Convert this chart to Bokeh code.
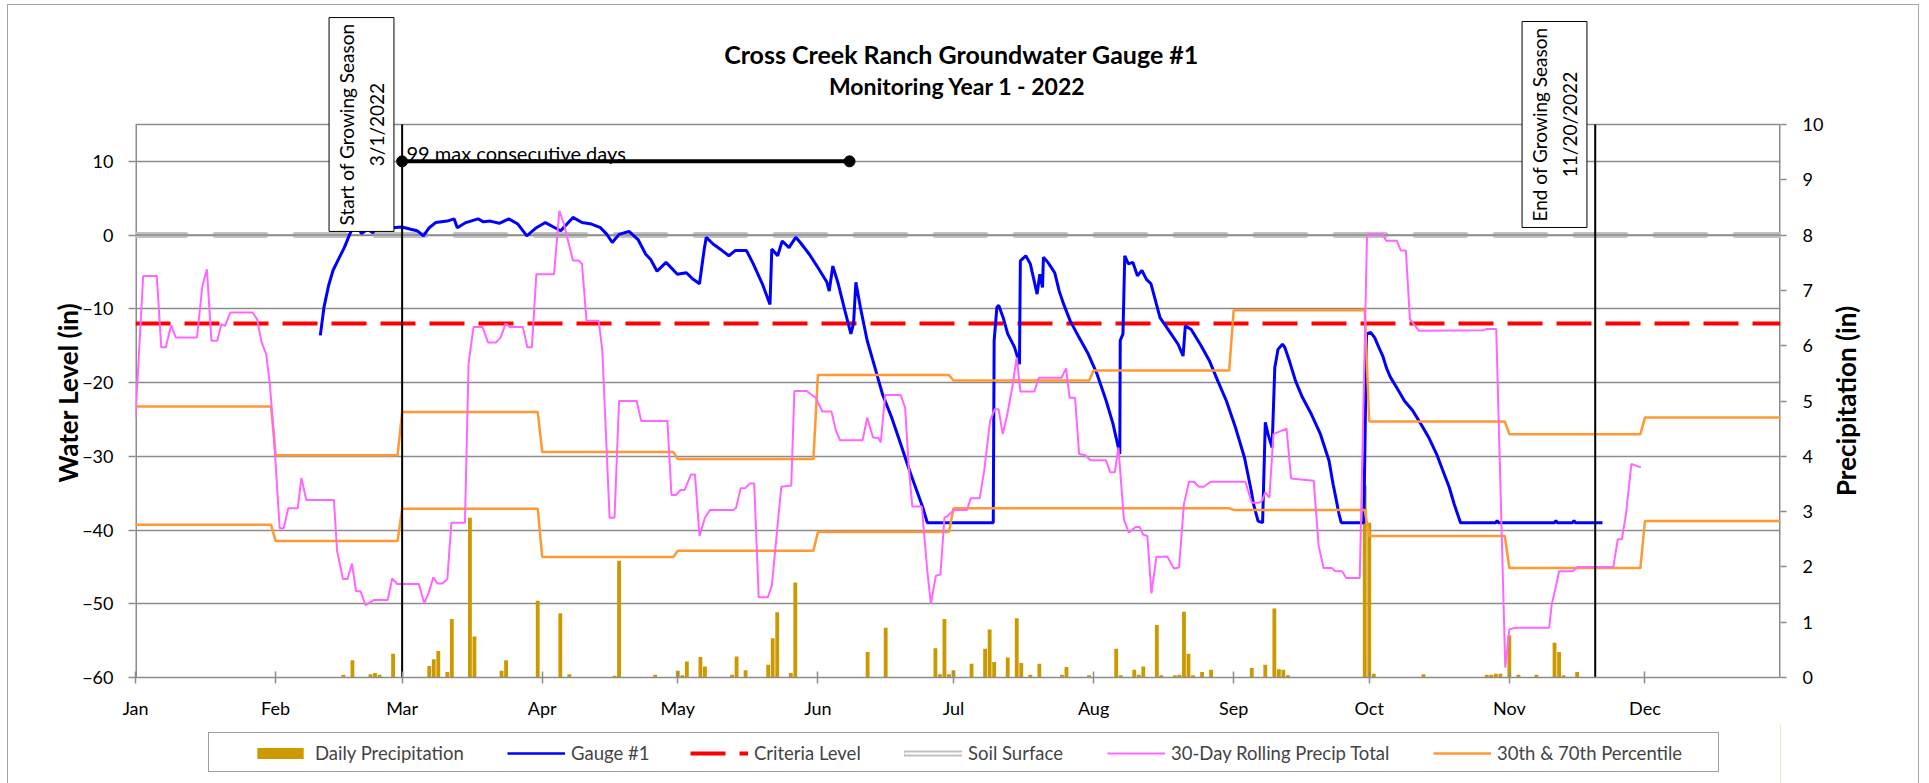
import numpy as np
import pandas as pd
from bokeh.plotting import figure
from bokeh.layouts import column, row
from bokeh.models import (Range1d, LinearAxis, FixedTicker, DatetimeTickFormatter,
                          Label, Legend, LegendItem)
from bokeh.embed import file_html
from bokeh.resources import INLINE

# ---------------- data ----------------
YEAR = "2022"

# daily precipitation (day of year, 0 = Jan 1) and inches
precip_day = [46, 48, 52, 53, 54, 57, 65, 66, 67, 69, 70, 74, 75, 81, 82, 89, 94, 96, 106, 107,
              115, 120, 121, 122, 125, 126, 132, 133, 135, 140, 141, 142, 145, 146, 162, 166,
              177, 178, 179, 180, 181, 185, 188, 189, 190, 193, 195, 196, 198, 200, 205, 206,
              211, 217, 218, 221, 222, 223, 226, 227, 230, 231, 232, 233, 234, 236, 238, 247,
              250, 252, 253, 254, 255, 272, 273, 274, 285, 299, 300, 301, 302, 304, 306, 310,
              314, 315, 316, 319]
precip_in = [0.05, 0.31, 0.06, 0.08, 0.05, 0.43, 0.21, 0.33, 0.48, 0.10, 1.06, 2.89, 0.74, 0.12,
             0.31, 1.39, 1.16, 0.06, 0.03, 2.11, 0.05, 0.12, 0.04, 0.29, 0.37, 0.20, 0.05, 0.38,
             0.13, 0.23, 0.71, 1.18, 0.08, 1.72, 0.46, 0.90, 0.53, 0.06, 1.06, 0.06, 0.13, 0.25,
             0.52, 0.87, 0.28, 0.36, 1.07, 0.26, 0.05, 0.25, 0.05, 0.19, 0.04, 0.52, 0.04, 0.14,
             0.05, 0.20, 0.95, 0.04, 0.04, 0.05, 1.19, 0.43, 0.04, 0.10, 0.14, 0.17, 0.23, 1.25,
             0.15, 0.14, 0.04, 3.47, 2.80, 0.07, 0.06, 0.05, 0.05, 0.07, 0.07, 0.76, 0.05, 0.05,
             0.63, 0.46, 0.04, 0.10]

# Gauge #1 water level (in)
gauge_day = [40.9, 41.7, 42.7, 43.7, 44.9, 46.2, 47.4, 48.2, 48.7, 50.0, 51.4, 52.5, 53.5, 54.2,
             55.5, 56.9, 58.9, 60.9, 62.3, 63.7, 65.0, 66.4, 69.0, 70.5, 71.2, 73.1, 75.8, 77.0,
             78.5, 80.5, 82.6, 84.6, 86.6, 88.7, 90.7, 92.8, 94.1, 96.8, 98.8, 100.9, 102.9,
             104.3, 105.5, 107.0, 109.2, 111.2, 112.9, 114.0, 115.4, 117.4, 119.9, 121.9, 123.4,
             124.8, 125.8, 126.3, 127.8, 129.8, 131.3, 132.7, 135.2, 136.7, 138.7, 140.4, 140.8,
             142.1, 143.1, 144.6, 146.1, 147.1, 149.1, 151.0, 153.0, 153.5, 154.3, 155.5, 157.0,
             158.3, 158.9, 159.4, 160.4, 161.9, 163.4, 165.3, 167.3, 169.3, 171.3, 173.2, 174.2,
             175.2, 189.8, 190.0, 190.6, 191.0, 192.0, 193.0, 194.5, 195.2, 195.6, 195.8, 196.5,
             197.0, 198.0, 198.7, 199.5, 200.1, 200.7, 200.9, 201.9, 203.4, 204.4, 205.4, 206.8,
             208.8, 210.8, 212.8, 214.8, 216.3, 217.8, 217.9, 218.5, 218.9, 219.7, 220.7, 221.7,
             222.7, 223.7, 224.7, 225.7, 226.7, 228.7, 230.7, 231.8, 232.3, 233.6, 235.6, 237.6,
             239.5, 241.4, 243.4, 245.4, 246.9, 247.4, 248.4, 249.4, 250.0, 250.6, 251.5, 252.1,
             252.8, 253.8, 254.3, 255.3, 256.7, 258.2, 260.2, 262.2, 264.1, 265.0, 265.6, 266.3,
             266.8, 271.8, 272.4, 273.3, 274.2, 275.1, 276.0, 276.8, 277.7, 279.1, 280.8, 282.6,
             284.4, 286.2, 287.9, 289.7, 290.7, 291.8, 293.2, 301.0, 301.3, 301.6, 314.0, 314.3,
             314.6, 318.0, 318.3, 318.6, 324.6]
gauge_level = [-13.6, -9.8, -6.9, -4.8, -3.3, -1.7, 0.1, 1.2, 1.7, 0.2, 0.8, 0.3, 1.2, 1.5,
               0.9, 1.0, 1.1, 0.8, 0.6, -0.1, 1.0, 1.7, 1.9, 2.2, 1.0, 1.7, 2.2, 1.8,
               1.9, 1.6, 2.2, 1.5, -0.1, 1.0, 1.7, 1.0, 0.6, 2.4, 1.7, 1.5, 1.0,
               0.1, -1.0, 0.1, 0.5, -0.6, -2.6, -3.3, -4.9, -3.7, -5.3, -5.1, -6.0,
               -6.6, -2.1, -0.3, -1.2, -2.1, -2.8, -2.1, -2.1, -3.9, -6.6, -9.4, -1.9,
               -2.8, -0.8, -1.7, -0.3, -1.0, -2.6, -4.4, -6.4, -7.6, -4.2, -6.6, -10.3,
               -13.4, -11.9, -6.4, -9.8, -14.3, -17.5, -21.6, -24.7, -28.3, -32.0, -35.2, -36.9,
               -39.0, -39.0, -14.3, -9.8, -9.5, -11.2, -13.4, -15.2, -16.6, -17.5, -3.5, -3.1,
               -2.8, -3.9, -5.8, -8.0, -5.3, -7.1, -3.0, -3.7, -5.1, -7.6, -9.4, -11.6,
               -13.9, -16.1, -18.9, -22.5, -25.6, -29.7, -14.3, -13.4, -2.8, -3.9, -3.7, -5.5,
               -4.8, -6.0, -6.6, -8.9, -11.2, -13.0, -14.8, -16.4, -12.3, -12.8, -14.8, -17.0,
               -19.8, -22.5, -26.1, -30.2, -34.7, -36.5, -38.8, -39.0, -25.4, -27.0, -28.8, -18.0,
               -15.5, -14.8, -15.2, -17.0, -19.8, -22.0, -24.3, -27.0, -30.6, -33.8, -35.6, -37.8,
               -39.0, -39.0, -13.4, -13.2, -13.9, -15.2, -16.4, -18.0, -19.3, -20.7, -22.5, -23.8,
               -25.6, -27.5, -29.7, -32.6, -34.2, -36.5, -39.0, -39.0, -38.7, -39.0, -39.0, -38.7,
               -39.0, -39.0, -38.7, -39.0, -39.0]

# 30-day rolling precipitation total (in)
roll_day = [0, 1.7, 4.7, 5.7, 6.7, 7.9, 8.9, 13.6, 14.8, 15.8, 16.8, 18.1, 19.0, 19.8, 21.0, 25.9,
            26.9, 27.9, 28.9, 29.7, 30.6, 31.9, 32.8, 33.8, 35.9, 36.7, 37.8, 43.9, 44.6, 45.9,
            46.9, 47.9, 48.8, 49.8, 50.9, 52.7, 55.8, 56.8, 57.9, 62.7, 63.9, 64.9, 65.9, 66.8,
            67.9, 69.0, 69.9, 72.9, 73.7, 74.8, 76.8, 78.0, 79.8, 80.8, 81.9, 82.8, 85.7, 86.7,
            87.7, 88.7, 92.6, 93.8, 94.8, 96.8, 98.1, 98.8, 99.8, 102.5, 103.3, 104.9, 106.0,
            107.0, 110.9, 111.9, 117.7, 118.6, 119.6, 120.6, 121.5, 122.9, 123.8, 124.8, 126.0,
            127.1, 132.3, 132.9, 133.9, 134.9, 135.9, 136.9, 137.9, 139.9, 140.8, 142.9, 145.1,
            145.8, 148.5, 150.5, 152.0, 154.0, 155.0, 155.9, 160.9, 161.9, 163.2, 164.4, 164.9,
            165.9, 169.3, 170.3, 171.1, 171.9, 174.0, 175.2, 176.0, 177.1, 178.1, 179.0, 179.7,
            180.4, 181.2, 184.0, 184.8, 186.8, 187.8, 189.1, 190.1, 191.0, 191.9, 192.9, 194.0,
            195.0, 195.8, 198.9, 199.9, 204.9, 205.9, 206.7, 207.9, 208.8, 210.2, 211.3, 214.7,
            215.7, 216.7, 217.5, 218.7, 219.8, 221.3, 222.2, 223.0, 223.9, 224.8, 225.9, 228.3,
            229.8, 230.9, 232.0, 233.1, 234.2, 235.3, 236.4, 237.9, 245.6, 246.4, 247.0, 248.6,
            249.3, 250.0, 250.9, 251.8, 254.7, 255.7, 260.7, 261.8, 262.9, 264.7, 265.5, 267.0,
            267.9, 270.9, 272.5, 272.9, 276.0, 276.7, 279.1, 280.0, 281.1, 282.0, 284.0, 298.2,
            298.9, 301.1, 303.1, 304.0, 305.4, 312.8, 313.4, 314.3, 315.0, 318.0, 319.1, 327.0,
            328.0, 328.9, 329.8, 331.0, 333.1]
roll_total = [4.70, 7.26, 7.26, 5.97, 5.97, 6.37, 6.15, 6.15, 7.08, 7.38, 6.09, 6.09, 6.39, 6.36,
              6.60, 6.60, 6.48, 6.06, 5.85, 5.33, 4.40, 2.70, 2.70, 3.06, 3.06, 3.61, 3.21, 3.21,
              2.29, 1.78, 1.78, 2.06, 1.56, 1.56, 1.31, 1.40, 1.40, 1.79, 1.69, 1.69, 1.34, 1.54,
              1.81, 1.70, 1.70, 1.78, 2.80, 2.80, 5.67, 6.34, 6.34, 6.06, 6.06, 6.15, 6.40, 6.34,
              6.34, 5.97, 5.97, 7.29, 7.29, 8.44, 8.20, 7.54, 7.54, 7.48, 6.45, 6.45, 5.91, 2.89,
              2.89, 5.00, 5.00, 4.64, 4.64, 3.30, 3.30, 3.39, 3.39, 3.67, 3.67, 2.56, 2.89, 3.03,
              3.03, 3.07, 3.42, 3.42, 3.51, 3.51, 1.45, 1.45, 1.66, 3.45, 3.47, 5.18, 5.18, 5.06,
              4.81, 4.81, 4.46, 4.29, 4.29, 4.70, 4.34, 4.33, 4.25, 5.11, 5.11, 4.88, 3.80, 3.09,
              3.09, 1.93, 1.33, 1.84, 1.86, 2.89, 2.92, 2.98, 3.03, 3.03, 3.24, 3.24, 3.74, 4.64,
              4.85, 4.85, 4.40, 4.76, 5.24, 5.79, 5.17, 5.17, 5.42, 5.42, 5.59, 5.06, 5.06, 4.04,
              4.02, 3.93, 3.93, 3.71, 3.71, 4.16, 2.86, 2.62, 2.72, 2.72, 2.58, 2.56, 1.52, 2.18,
              2.19, 1.97, 1.99, 3.14, 3.54, 3.54, 3.45, 3.45, 3.54, 3.54, 3.32, 3.16, 3.16, 3.20,
              3.35, 3.25, 4.40, 4.50, 3.60, 3.56, 2.38, 1.98, 1.98, 1.92, 1.92, 1.80, 1.80, 7.96,
              8.02, 8.02, 7.90, 7.90, 7.72, 7.72, 6.48, 6.27, 6.28, 6.30, 6.30, 0.18, 0.87, 0.90,
              0.90, 1.33, 1.64, 1.92, 1.92, 2.00, 2.00, 2.50, 2.50, 2.95, 3.86, 3.80]

# monthly 30th / 70th percentile of 30-day precip (in)
pct70 = [4.90, 4.02, 4.80, 4.08, 3.95, 5.47, 5.37, 5.55, 6.64, 4.63, 4.40, 4.70]
pct30 = [2.76, 2.47, 3.05, 2.18, 2.29, 2.63, 3.06, 3.06, 3.03, 2.56, 1.98, 2.83]

criteria_level = [-12, -12]
soil_level = [0, 0]
line_dates = ["2022-01-01", "2022-12-31"]

season_dates = ["2022-03-01", "2022-11-20"]
streak_days = 99
streak_level = 10

left_ticks = [-60, -50, -40, -30, -20, -10, 0, 10]
right_ticks = [0, 1, 2, 3, 4, 5, 6, 7, 8, 9, 10]
LEFT_MIN, LEFT_MAX = -60, 15
RIGHT_MIN, RIGHT_MAX = 0, 10

# ---------------- helpers ----------------
T0 = pd.Timestamp(YEAR + "-01-01")
T_END = pd.Timestamp(YEAR + "-12-31")


def to_dt(days):
    return (T0 + pd.to_timedelta(np.asarray(days, dtype=float), unit="D")).to_numpy()


def ms(ts):
    return pd.Timestamp(ts).value / 1e6


month_starts = pd.date_range(T0, periods=12, freq="MS")
month_start_day = [(d - T0).days for d in month_starts]
pct_day, up_v, lo_v = [], [], []
for i, m in enumerate(month_start_day):
    end = month_start_day[i + 1] - 1 if i < 11 else 364
    pct_day += [m, end]
    up_v += [pct70[i], pct70[i]]
    lo_v += [pct30[i], pct30[i]]

GRID = "#8c8c8c"
FONT = "Lato"
TICK_FS = "18px"
AXLAB_FS = "26px"
BAR_C, GAUGE_C, CRIT_C = "#CC9900", "#0000FF", "#FF0000"
SOIL_C, ROLL_C, PCT_C = "#C0C0C0", "#FF66FF", "#FF9933"

# layout (page pixels)
W = 1929
W_RT = 100                            # strip at the right holding the precipitation axis title
W_MAIN = W - W_RT
H_MAIN, H_LEG = 724, 59
FRAME_L, FRAME_R = 135, 1780
DATA_TOP, FRAME_B = 124, 677          # the 15 / 10 line, and the frame bottom
# the frame reaches the canvas top so that texts above the data area are not clipped
scale_l = (LEFT_MAX - LEFT_MIN) / (FRAME_B - DATA_TOP)
scale_r = (RIGHT_MAX - RIGHT_MIN) / (FRAME_B - DATA_TOP)
y_top_l = LEFT_MAX + DATA_TOP * scale_l
y_top_r = RIGHT_MAX + DATA_TOP * scale_r
# the left axis title is centred on the whole frame; trailing no-break spaces shift the
# visible words down to the middle of the data area
AX_PAD = "\u00a0" * 17

p = figure(width=W_MAIN, height=H_MAIN, x_axis_type="datetime", title=None,
           x_range=Range1d(start=T0, end=T_END),
           y_range=Range1d(LEFT_MIN, y_top_l),
           output_backend="svg", toolbar_location=None,
           min_border_left=FRAME_L, min_border_right=W_MAIN - FRAME_R,
           min_border_top=0, min_border_bottom=H_MAIN - FRAME_B)
p.extra_y_ranges = {"precip": Range1d(RIGHT_MIN, y_top_r)}
p.outline_line_color = None
p.background_fill_color = None
p.border_fill_color = None
p.xgrid.visible = False
p.ygrid.ticker = FixedTicker(ticks=left_ticks)
p.ygrid.grid_line_color = GRID
p.ygrid.grid_line_width = 1.5

xa = p.xaxis[0]
xa.ticker = FixedTicker(ticks=[ms(d) for d in month_starts])
xa.formatter = DatetimeTickFormatter(days="%b", months="%b", years="%b", hours="%b",
                                     minutes="%b", seconds="%b", milliseconds="%b")
xa.major_tick_in = 6
xa.major_tick_out = 6
xa.minor_tick_line_color = None
xa.axis_line_color = GRID
xa.axis_line_width = 1.5
xa.major_tick_line_color = GRID
xa.major_tick_line_width = 1.5
xa.major_label_text_font = FONT
xa.major_label_text_font_size = TICK_FS
xa.major_label_text_color = "black"
xa.major_label_standoff = 13

ya = p.yaxis[0]
ya.ticker = FixedTicker(ticks=left_ticks)
ya.major_tick_in = 0
ya.major_tick_out = 7
ya.minor_tick_line_color = None
ya.axis_line_color = None
ya.major_tick_line_color = GRID
ya.major_tick_line_width = 1.5
ya.major_label_text_font = FONT
ya.major_label_text_font_size = TICK_FS
ya.major_label_text_color = "black"
ya.major_label_standoff = 15
ya.axis_label = "Water Level (in)" + AX_PAD
ya.axis_label_text_font = FONT
ya.axis_label_text_font_style = "bold"
ya.axis_label_text_font_size = AXLAB_FS
ya.axis_label_text_color = "black"
ya.axis_label_standoff = -5

ra = LinearAxis(y_range_name="precip", ticker=FixedTicker(ticks=right_ticks))
ra.major_tick_in = 0
ra.major_tick_out = 6
ra.minor_tick_line_color = None
ra.axis_line_color = None
ra.major_tick_line_color = GRID
ra.major_tick_line_width = 1.5
ra.major_label_text_font = FONT
ra.major_label_text_font_size = TICK_FS
ra.major_label_text_color = "black"
ra.major_label_standoff = 16
p.add_layout(ra, "right")

# frame lines of the data area (left / right axis lines and top border)
xs = np.array([T0, T0, T_END], dtype="datetime64[ns]")
xe = np.array([T0, T_END, T_END], dtype="datetime64[ns]")
p.segment(x0=xs, y0=[LEFT_MIN, LEFT_MAX, LEFT_MIN], x1=xe, y1=[LEFT_MAX, LEFT_MAX, LEFT_MAX],
          line_color=GRID, line_width=[3, 1.5, 3])

# ---------------- glyphs ----------------
p.vbar(x=to_dt(precip_day), top=precip_in, width=0.85 * 86400000, bottom=0,
       y_range_name="precip", fill_color=BAR_C, line_color=None)

soil_x = pd.to_datetime(line_dates).to_numpy()
p.line(soil_x, soil_level, line_color=SOIL_C, line_width=6, line_dash="50 30", line_cap="round")
p.line(soil_x, soil_level, line_color=GRID, line_width=1.5)

p.line(soil_x, criteria_level, line_color=CRIT_C, line_width=4, line_dash="35 14")

p.line(to_dt(gauge_day), gauge_level, line_color=GAUGE_C, line_width=3)

p.line(to_dt(pct_day), up_v, y_range_name="precip", line_color=PCT_C, line_width=2.5)
p.line(to_dt(pct_day), lo_v, y_range_name="precip", line_color=PCT_C, line_width=2.5)

p.line(to_dt(roll_day), roll_total, y_range_name="precip", line_color=ROLL_C, line_width=2)

# growing season limits
sd = pd.to_datetime(season_dates).to_numpy()
p.segment(x0=sd, y0=[LEFT_MIN] * 2, x1=sd, y1=[LEFT_MAX] * 2, line_color="black", line_width=2)

# max consecutive days marker
s0 = pd.Timestamp(season_dates[0])
streak_x = np.array([s0, s0 + pd.Timedelta(days=streak_days)], dtype="datetime64[ns]")
p.line(streak_x, [streak_level, streak_level], line_color="black", line_width=4)
p.scatter(streak_x, [streak_level, streak_level], size=11, marker="circle", color="black")


# ---------------- text ----------------
def scr_label(x, y, text, **kw):
    kw.setdefault("text_font", FONT)
    kw.setdefault("text_font_size", "19px")
    kw.setdefault("text_color", "black")
    lab = Label(x=x - FRAME_L, y=FRAME_B - y, x_units="screen", y_units="screen", text=text, **kw)
    p.add_layout(lab)
    return lab


scr_label(961, 53, "Cross Creek Ranch Groundwater Gauge #1", text_align="center",
          text_baseline="middle", text_font_style="bold", text_font_size="25px")
scr_label(957, 85, "Monitoring Year 1 - 2022", text_align="center", text_baseline="middle",
          text_font_style="bold", text_font_size="23px")
scr_label(406, 152, "99 max consecutive days", text_align="left", text_baseline="alphabetic",
          text_font_size="20px")
scr_label(361, 124, "Start of Growing Season\n3/1/2022", text_align="center",
          text_baseline="middle", angle=90, angle_units="deg", text_line_height=1.3,
          border_line_color="black", border_line_width=1, background_fill_color="white", padding=6)
scr_label(1554, 124, "End of Growing Season\n11/20/2022", text_align="center",
          text_baseline="middle", angle=90, angle_units="deg", text_line_height=1.3,
          border_line_color="black", border_line_width=1, background_fill_color="white", padding=6)

# ---------------- right strip: precipitation axis title ----------------
r = figure(width=W_RT, height=H_MAIN, x_range=Range1d(0, 1), y_range=Range1d(0, 1),
           x_axis_location=None, y_axis_location=None, title=None,
           output_backend="svg", toolbar_location=None,
           min_border_left=0, min_border_right=0, min_border_top=0,
           min_border_bottom=H_MAIN - FRAME_B)
r.grid.visible = False
r.outline_line_color = None
r.background_fill_color = None
r.border_fill_color = None
r.add_layout(Label(x=1845 - W_MAIN, y=FRAME_B - (DATA_TOP + FRAME_B) / 2,
                   x_units="screen", y_units="screen", text="Precipitation (in)",
                   angle=90, angle_units="deg", text_align="center", text_baseline="middle",
                   text_font=FONT, text_font_style="bold", text_font_size=AXLAB_FS,
                   text_color="black"))

# ---------------- legend strip below the chart ----------------
q = figure(width=W, height=H_LEG, x_range=Range1d(0, 1), y_range=Range1d(0, 1),
           x_axis_location=None, y_axis_location=None, title=None,
           output_backend="svg", toolbar_location=None,
           min_border_left=FRAME_L, min_border_right=W - FRAME_R,
           min_border_top=0, min_border_bottom=0)
q.grid.visible = False
q.outline_line_color = None
q.background_fill_color = None
q.border_fill_color = None

# legend proxies: their single point lies outside the strip's ranges, so only the legend shows them
PX, PY = [5.0], [5.0]
lg_bar = q.vbar(x=PX, top=PY, width=1, fill_color=BAR_C, line_color=None)
lg_gauge = q.line(x=PX, y=PY, line_color=GAUGE_C, line_width=2.5)
lg_crit = q.line(x=PX, y=PY, line_color=CRIT_C, line_width=4, line_dash="35 14")
lg_soil_o = q.line(x=PX, y=PY, line_color=SOIL_C, line_width=6, line_cap="round")
lg_soil_i = q.line(x=PX, y=PY, line_color="white", line_width=2)
lg_roll = q.line(x=PX, y=PY, line_color=ROLL_C, line_width=2)
lg_pct = q.line(x=PX, y=PY, line_color=PCT_C, line_width=2.5)
lg_blank = q.line(x=PX, y=PY, line_alpha=0)

# frame of the legend box: page x 208..1717, y 734..772
box = Legend(items=[LegendItem(label=" ", renderers=[lg_blank])],
             location=(208 - FRAME_L, H_MAIN + H_LEG - 772), orientation="horizontal",
             padding=0, margin=0, spacing=0, glyph_width=1, glyph_height=38,
             label_standoff=0, label_width=1508, label_height=38,
             border_line_color="#404040", border_line_width=1.5,
             background_fill_color="white", background_fill_alpha=1)
q.add_layout(box, "center")

legend_entries = [
    ("Daily Precipitation", [lg_bar], 251),
    ("Gauge #1", [lg_gauge], 507),
    ("Criteria Level", [lg_crit], 690),
    ("Soil Surface", [lg_soil_o, lg_soil_i], 904),
    ("30-Day Rolling Precip Total", [lg_roll], 1107),
    ("30th & 70th Percentile", [lg_pct], 1433),
]
for label, rends, gx in legend_entries:
    lg = Legend(items=[LegendItem(label=label, renderers=rends)],
                location=(gx - FRAME_L, H_MAIN + H_LEG - 764), orientation="horizontal",
                padding=0, margin=0, spacing=0, glyph_width=58, glyph_height=14,
                label_standoff=6, label_height=23,
                label_text_font=FONT, label_text_font_size="18.5px",
                border_line_color=None, background_fill_alpha=0)
    q.add_layout(lg, "center")

# thin chart-area border, drawn as page background lines behind the transparent canvases
edge = "linear-gradient(#a6a6a6, #a6a6a6)"
layout = column(row(p, r, spacing=0), q, spacing=0, styles={
    "background": (f"{edge} 7px 4px / 1px 779px no-repeat, "
                   f"{edge} 7px 4px / 1912px 1px no-repeat, "
                   f"{edge} 1918px 4px / 1px 779px no-repeat, white"),
})
open("out.html", "w").write(file_html(layout, INLINE))
